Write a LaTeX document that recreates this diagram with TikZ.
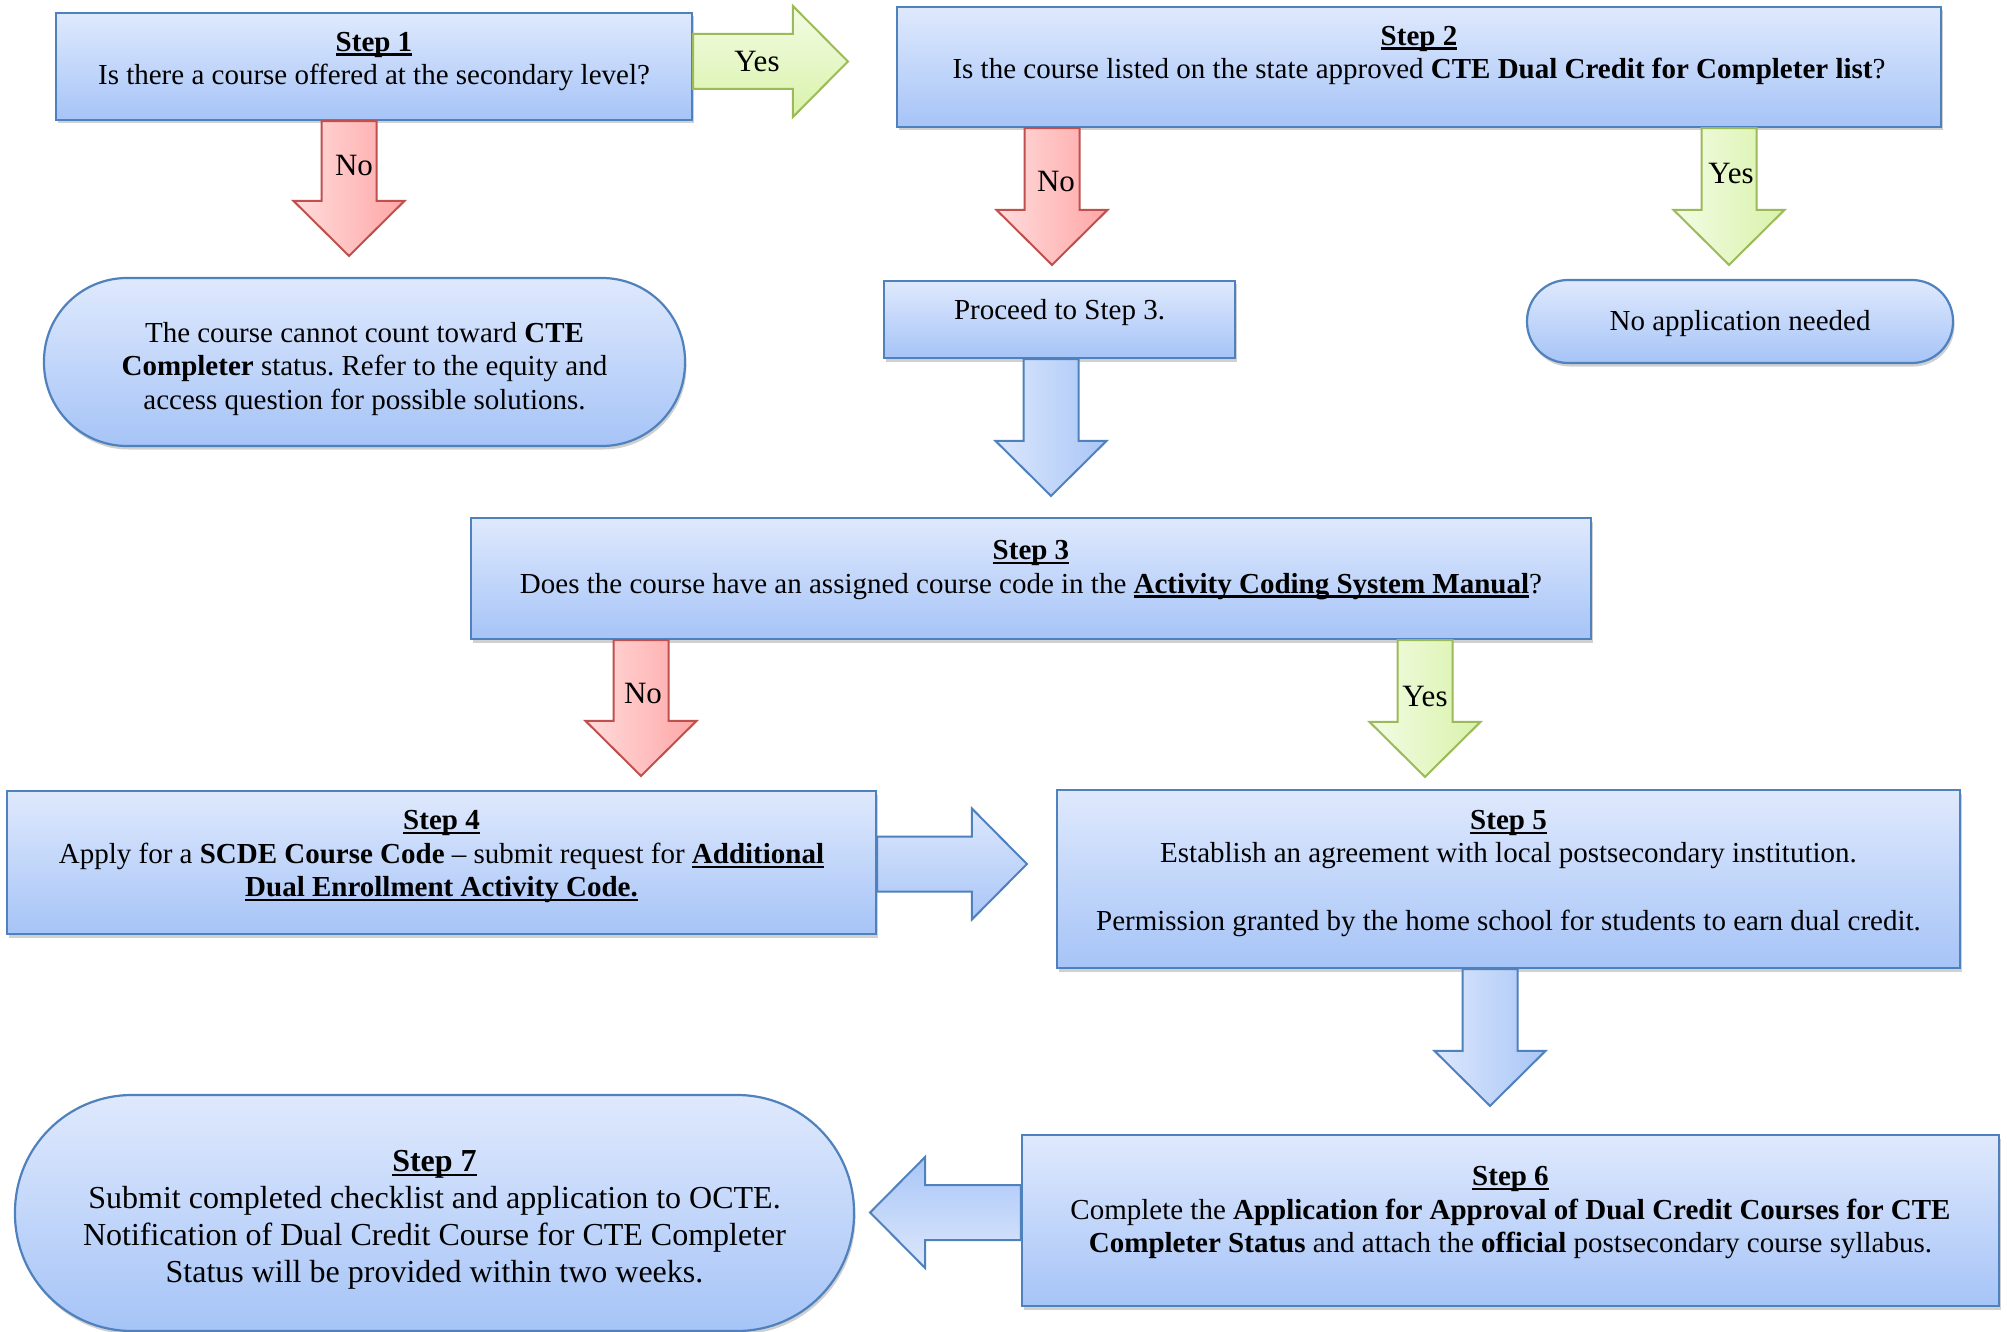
\documentclass[tikz,border=0pt]{standalone}
\usepackage{fontspec}
\setmainfont{Liberation Serif}
\usetikzlibrary{calc,shadows}
\frenchspacing
\definecolor{boxt}{HTML}{DFE9FD}
\definecolor{boxm}{HTML}{A6C4F7}
\definecolor{boxb}{HTML}{4F81BD}
\definecolor{redl}{HTML}{FFDCDC}
\definecolor{redr}{HTML}{FFA6A6}
\definecolor{redb}{HTML}{C0504D}
\definecolor{grnl}{HTML}{F3FCE4}
\definecolor{grnr}{HTML}{D9F2AA}
\definecolor{grnb}{HTML}{9BBB59}
\definecolor{blul}{HTML}{DCE7FC}
\definecolor{blud}{HTML}{A9C6F7}
\newcommand\ulb[1]{\setbox0\hbox{#1}\rlap{\rule[-4.5pt]{\wd0}{2.4pt}}\box0}
% vertical block arrow: style, x, from node, to node, gap
\newcommand\varr[5]{\path[#1] let \p1=(#3.south), \p2=(#4.north) in
  (#2pt-27.5pt,\y1) -- (#2pt+27.5pt,\y1) -- (#2pt+27.5pt,\y2+#5pt+55pt) -- (#2pt+55.5pt,\y2+#5pt+55pt)
  -- (#2pt,\y2+#5pt) -- (#2pt-55.5pt,\y2+#5pt+55pt) -- (#2pt-27.5pt,\y2+#5pt+55pt) -- cycle;}
% right block arrow: style, y, from, to, gap
\newcommand\rarr[5]{\path[#1] let \p1=(#3.east), \p2=(#4.west) in
  (\x1,-#2pt+27.5pt) -- (\x2-#5pt-55pt,-#2pt+27.5pt) -- (\x2-#5pt-55pt,-#2pt+55.5pt) -- (\x2-#5pt,-#2pt)
  -- (\x2-#5pt-55pt,-#2pt-55.5pt) -- (\x2-#5pt-55pt,-#2pt-27.5pt) -- (\x1,-#2pt-27.5pt) -- cycle;}
% left block arrow: style, y, from (right), to (left), gap
\newcommand\larr[5]{\path[#1] let \p1=(#3.west), \p2=(#4.east) in
  (\x1,-#2pt+27.5pt) -- (\x2+#5pt+55pt,-#2pt+27.5pt) -- (\x2+#5pt+55pt,-#2pt+55.5pt) -- (\x2+#5pt,-#2pt)
  -- (\x2+#5pt+55pt,-#2pt-55.5pt) -- (\x2+#5pt+55pt,-#2pt-27.5pt) -- (\x1,-#2pt-27.5pt) -- cycle;}
\begin{document}
\begin{tikzpicture}[x=1pt,y=-1pt,
  box/.style={rectangle, draw=boxb, line width=2.2pt, top color=boxt, bottom color=boxm, inner sep=0pt,
    drop shadow={shadow xshift=1.5pt, shadow yshift=-3.5pt, opacity=0.3, fill=black!60}},
  txt/.style={align=center, inner sep=0pt, font=\fontsize{29}{33.5}\selectfont},
  bigtxt/.style={align=center, inner sep=0pt, font=\fontsize{32}{37}\selectfont},
  lbl/.style={inner sep=0pt, text height=21pt, text depth=7pt, font=\fontsize{31}{36}\selectfont},
  redarr/.style={draw=redb, line width=2pt, left color=redl, right color=redr},
  grnarr/.style={draw=grnb, line width=2pt, left color=grnl, right color=grnr},
  grnarrH/.style={draw=grnb, line width=2pt, top color=grnl, bottom color=grnr},
  bluarrV/.style={draw=boxb, line width=2pt, left color=blul, right color=blud},
  bluarrR/.style={draw=boxb, line width=2pt, top color=blul, bottom color=blud},
  bluarrL/.style={draw=boxb, line width=2pt, top color=blud, bottom color=blul}]
\useasboundingbox (0,0) rectangle (2007,1332);
\fill[white] (0,0) rectangle (2007,1332);

% boxes
\node[box, minimum width=636pt, minimum height=107pt] (s1) at (374,66.5) {};
\node[txt] (t1) at ($(s1.center)+(0,-5)$) {\ulb{\textbf{Step 1}}\\Is there a course offered at the secondary level?};

\node[box, minimum width=1044pt, minimum height=120pt] (s2) at (1419,67) {};
\node[txt] (t2) at ($(s2.center)+(0,-11.5)$) {\ulb{\textbf{Step 2}}\\Is the course listed on the state approved \textbf{CTE Dual Credit for Completer list}?};

\node[box, rounded corners=83pt, minimum width=641pt, minimum height=168pt] (o1) at (364.5,362) {};
\node[txt] (to1) at ($(o1.center)+(0,7)$) {The course cannot count toward \textbf{CTE}\\\textbf{Completer} status. Refer to the equity and\\access question for possible solutions.};

\node[box, minimum width=351pt, minimum height=77pt] (pr) at (1059.5,319.5) {};
\node[txt] (tpr) at ($(pr.center)+(0,-6.5)$) {Proceed to Step 3.};

\node[box, rounded corners=41pt, minimum width=426pt, minimum height=83pt] (na) at (1740,321.5) {};
\node[txt] (tna) at ($(na.center)+(0,2.5)$) {No application needed};

\node[box, minimum width=1120pt, minimum height=121pt] (s3) at (1031,578.5) {};
\node[txt] (t3) at ($(s3.center)+(0,-8.5)$) {\ulb{\textbf{Step 3}}\\Does the course have an assigned course code in the \ulb{\textbf{Activity Coding System Manual}}?};

\node[box, minimum width=869pt, minimum height=143pt] (s4) at (441.5,862.5) {};
\node[txt] (t4) at ($(s4.center)+(0,-5.5)$) {\ulb{\textbf{Step 4}}\\Apply for a \textbf{SCDE Course Code} – submit request for \ulb{\textbf{Additional}}\\\ulb{\textbf{Dual Enrollment Activity Code.}}};

\node[box, minimum width=903pt, minimum height=178pt] (s5) at (1508.5,879) {};
\node[txt] (t5) at ($(s5.center)+(0,-5.5)$) {\ulb{\textbf{Step 5}}\\Establish an agreement with local postsecondary institution.\\[34pt]Permission granted by the home school for students to earn dual credit.};

\node[box, minimum width=977pt, minimum height=171pt] (s6) at (1510.5,1220.5) {};
\node[txt] (t6) at ($(s6.center)+(0,-7.5)$) {\ulb{\textbf{Step 6}}\\Complete the \textbf{Application for Approval of Dual Credit Courses for CTE}\\\textbf{Completer Status} and attach the \textbf{official} postsecondary course syllabus.};

\node[box, rounded corners=117pt, minimum width=839pt, minimum height=236pt] (s7) at (434.5,1213) {};
\node[bigtxt] (t7) at ($(s7.center)+(0,7)$) {\ulb{\textbf{Step 7}}\\Submit completed checklist and application to OCTE.\\Notification of Dual Credit Course for CTE Completer\\Status will be provided within two weeks.};

% block arrows
\rarr{grnarrH}{61.5}{s1}{s2}{48}
\varr{redarr}{349}{s1}{o1}{21}
\varr{redarr}{1052}{s2}{pr}{15}
\varr{grnarr}{1729}{s2}{na}{14}
\varr{bluarrV}{1051}{pr}{s3}{21}
\varr{redarr}{641}{s3}{s4}{14}
\varr{grnarr}{1425}{s3}{s5}{12}
\rarr{bluarrR}{864}{s4}{s5}{29}
\varr{bluarrV}{1490}{s5}{s6}{28}
\larr{bluarrL}{1212.5}{s6}{s7}{15}

% labels
\node[lbl] (y1) at (757,65) {Yes};
\node[lbl] (n1) at (354,169) {No};
\node[lbl] (n2) at (1056,185) {No};
\node[lbl] (y2) at (1731,177) {Yes};
\node[lbl] (n3) at (643,696) {No};
\node[lbl] (y3) at (1425,699) {Yes};
\end{tikzpicture}
\end{document}
